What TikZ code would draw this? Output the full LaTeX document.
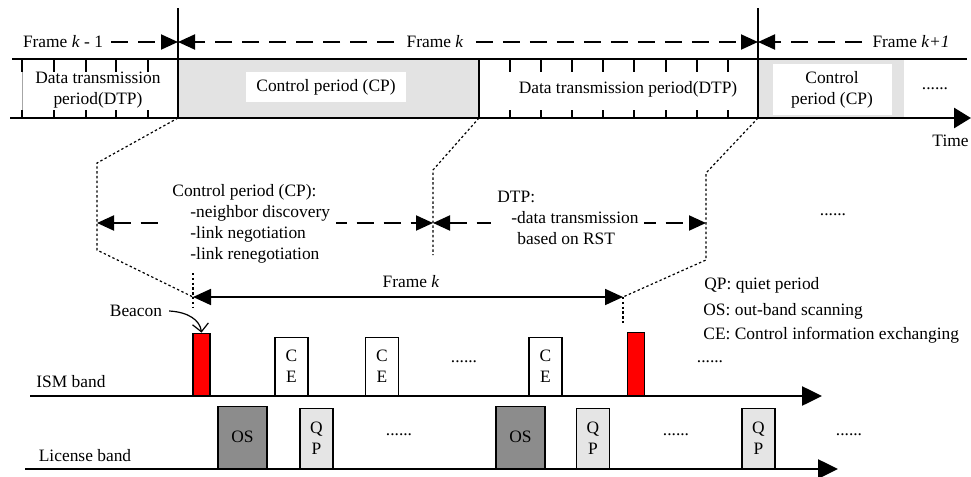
\documentclass[tikz,border=0pt]{standalone}
\usepackage{fontspec}
\setmainfont{Liberation Serif}
\usetikzlibrary{arrows.meta, positioning}
\def\bartop{59}
\def\barbot{118}
\def\ismband{396}
\def\licband{469}
\definecolor{cpgray}{gray}{0.89}
\definecolor{osgray}{gray}{0.55}
\definecolor{qpgray}{gray}{0.9}
\tikzstyle{rule}=[line width=1.2pt]
\tikzstyle{divider}=[line width=1.4pt]
\tikzstyle{tick}=[line width=0.6pt]
\tikzstyle{framearrow}=[line width=1pt, dash pattern=on 8.5pt off 5pt, -{Triangle[length=8.5pt,width=7.5pt]}]
\tikzstyle{spanarrow}=[framearrow, {Triangle[length=8.5pt,width=7.5pt]}-{Triangle[length=8.5pt,width=7.5pt]}]
\tikzstyle{zoomline}=[line width=0.6pt, dash pattern=on 1.2pt off 1.2pt]
\tikzstyle{bandaxis}=[line width=1.3pt, -{Triangle[length=10pt,width=9.5pt]}]
\tikzstyle{slot}=[draw, line width=0.7pt, anchor=south, inner sep=0pt, align=center]
\tikzstyle{beacon}=[slot, fill=red, minimum width=8.5pt, minimum height=31pt]
\tikzstyle{ce}=[slot, fill=white, minimum width=16.5pt, minimum height=29pt]
\tikzstyle{os}=[slot, fill=osgray, minimum width=24.5pt, minimum height=31pt]
\tikzstyle{qp}=[slot, fill=qpgray, minimum width=16.5pt, minimum height=30pt]
\tikzstyle{legend}=[anchor=west, inner sep=0pt]
\begin{document}
\begin{tikzpicture}[x=0.5pt, y=-0.5pt, font=\fontsize{8.7}{10.6}\selectfont]
\useasboundingbox (0,0) rectangle (971,477);

			% Time bar with the periods of each frame
			\fill[cpgray] (178,\bartop) rectangle (479,\barbot);
			\fill[cpgray] (758,\bartop) rectangle (904,\barbot);
			\draw[rule] (12,\bartop) -- (967,\bartop);
			\draw[rule, line width=1.4pt, -{Triangle[length=8.5pt,width=10pt]}] (10,\barbot) -- (971,\barbot);
			\draw[gray!70, line width=0.4pt] (22,\bartop) -- (22,\barbot);
			\foreach \x in {22,54,86,116,148,510,541,572,603,634,666,697,728} {
				\draw[tick] (\x,\bartop) -- (\x,72);
				\draw[tick] (\x,110) -- (\x,\barbot);
			}
			\draw[divider] (178,8) -- (178,\barbot);
			\draw[divider] (758,8) -- (758,\barbot);
			\draw[line width=0.8pt] (479,\bartop) -- (479,\barbot);

			\node[align=center] (dtpprev) at (98,90) {Data transmission\\period(DTP)};
			\node[fill=white, minimum width=80pt, minimum height=13.5pt] (cpcur) at (326,87) {Control period (CP)};
			\node (dtpcur) at (628,89) {Data transmission period(DTP)};
			\node[fill=white, align=center, minimum width=59.5pt, minimum height=22.5pt] (cpnext) at (832,89.5) {Control\\period (CP)};
			\node (morebar) at (935,89) {......};
			\node[anchor=east, inner xsep=1pt] (time) at (971,141) {Time};

			% Frame boundaries
			\coordinate (d1) at (178,42);
			\coordinate (d2) at (758,42);
			\node[inner sep=4pt] (fprev) at (63,42) {Frame \textit{k} - 1};
			\node[inner sep=6pt] (fcur) at (435,42) {Frame \textit{k}};
			\node[inner sep=5pt] (fnext) at (911,42) {Frame \textit{k+1}};
			\draw[framearrow] (fprev) -- (d1);
			\draw[framearrow] (fcur) -- (d1);
			\draw[framearrow] (fcur) -- (d2);
			\draw[framearrow] (fnext) -- (d2);

			% Zoom into frame k
			\draw[zoomline] (178,\barbot) -- (97,163) -- (97,250) -- (193,297);
			\draw[zoomline] (479,\barbot) -- (433,170) -- (433,255);
			\draw[zoomline] (758,\barbot) -- (706,173) -- (706,260) -- (623,297);
			\draw[zoomline] (193,273) -- (193,307);
			\draw[zoomline] (623,297) -- (623,325);

			\coordinate (sl) at (97,223);
			\coordinate (sm) at (433,223);
			\coordinate (sr) at (706,223);
			\draw[spanarrow] (sl) -- (sm);
			\draw[spanarrow] (sm) -- (sr);
			\node[fill=white, anchor=west, align=left, inner xsep=3pt, inner ysep=1pt] (cptext) at (166,224)
				{Control period (CP):\\\hspace*{9pt}-neighbor discovery\\\hspace*{9pt}-link negotiation\\\hspace*{9pt}-link renegotiation};
			\node[fill=white, anchor=west, align=left, inner xsep=3pt, inner ysep=1pt] (dtptext) at (491,218)
				{DTP:\\\hspace*{7pt}-data transmission\\\hspace*{10pt}based on RST};
			\node (morespan) at (833,215) {......};

			\coordinate (fs) at (193,297);
			\coordinate (fe) at (623,297);
			\draw[line width=0.9pt, {Triangle[length=9pt,width=8pt]}-{Triangle[length=9pt,width=8pt]}] (fs) -- (fe);
			\node (fklabel) at (411,282) {Frame \textit{k}};

			% Abbreviations
			\node[legend] (lqp) at (704,285) {QP: quiet period};
			\node[legend] (los) at (703,311) {OS: out-band scanning};
			\node[legend] (lce) at (703,335) {CE: Control information exchanging};

			% ISM band and license band
			\node (ism) at (71,382) {ISM band};
			\node (lic) at (85,456) {License band};
			\draw[bandaxis] (30,\ismband) -- (822,\ismband);
			\draw[bandaxis] (25,\licband) -- (838,\licband);

			\node[beacon] (bc1) at (201.5,\ismband) {};
			\node[ce] (ce1) at (291.5,\ismband) {C\\E};
			\node[ce] (ce2) at (382,\ismband) {C\\E};
			\node (ismdots1) at (464,362) {......};
			\node[ce] (ce3) at (545.5,\ismband) {C\\E};
			\node[beacon, minimum height=31.5pt] (bc2) at (636,\ismband) {};
			\node (ismdots2) at (710,362) {......};

			\node[os] (os1) at (242.5,\licband) {OS};
			\node[qp] (qp1) at (316.5,\licband) {Q\\P};
			\node (licdots1) at (399,435) {......};
			\node[os] (os2) at (520.5,\licband) {OS};
			\node[qp] (qp2) at (593,\licband) {Q\\P};
			\node (licdots2) at (676,435) {......};
			\node[qp] (qp3) at (758.5,\licband) {Q\\P};
			\node (licdots3) at (849,435) {......};

			\node (beacon) at (136,311) {Beacon};
			\draw[line width=0.6pt, -{Straight Barb[length=4pt,width=8pt]}] (beacon.east) .. controls (188,312) and (200,320) .. (bc1.north);
		\end{tikzpicture}
\end{document}
